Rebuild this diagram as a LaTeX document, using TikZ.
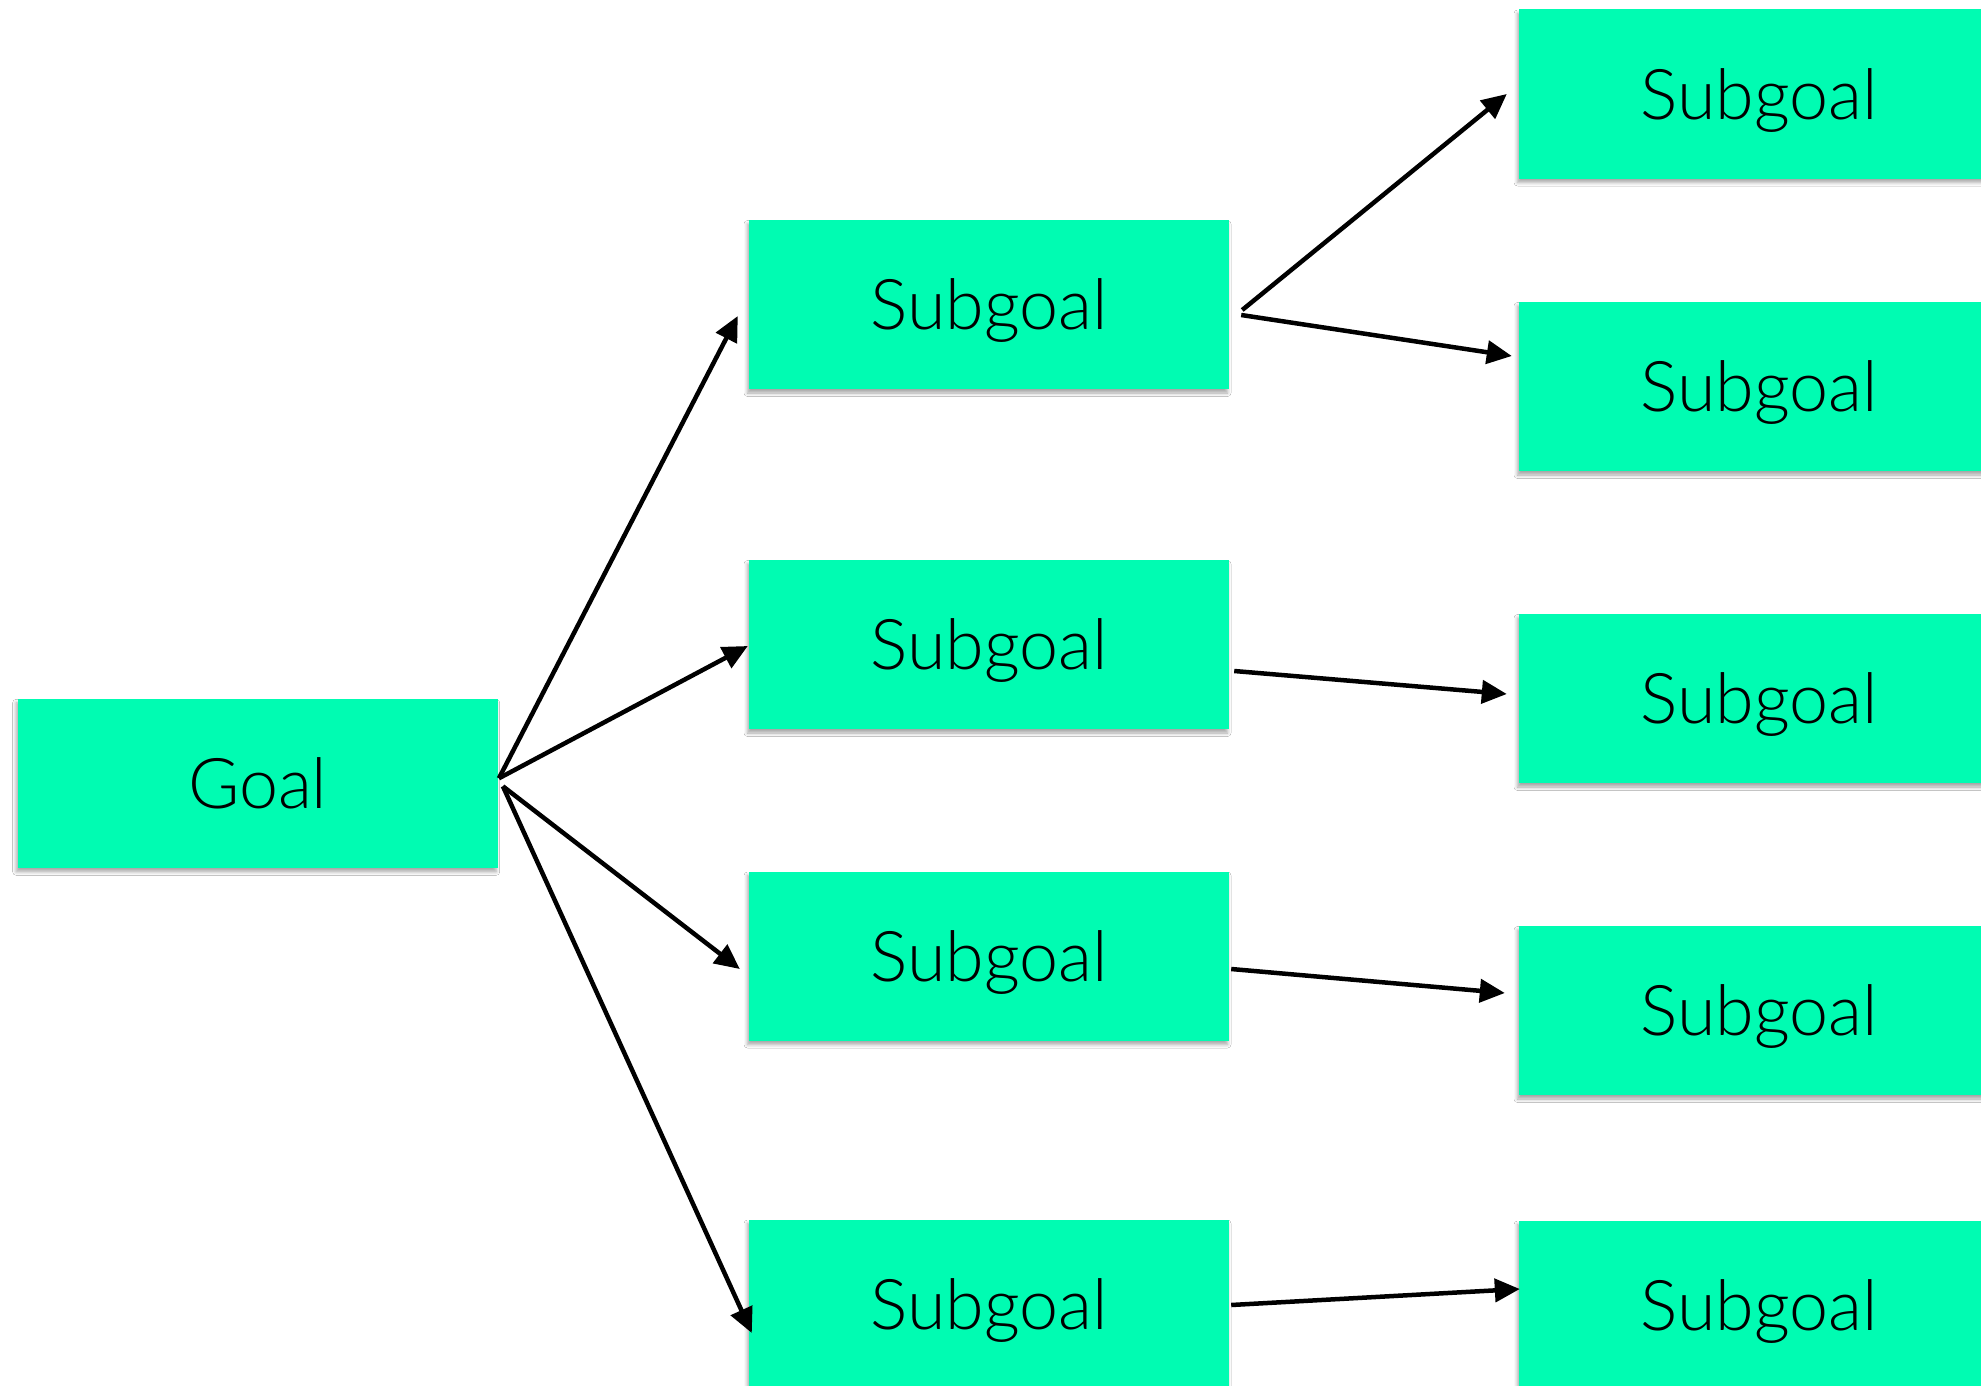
\documentclass[tikz,border=0pt]{standalone}
\usepackage{fontspec}
\setmainfont{Lato}[UprightFont=* Light]
\usetikzlibrary{arrows.meta,calc,shadows.blur}
\definecolor{goalgreen}{RGB}{0,252,178}
\tikzset{
  card/.style={fill=goalgreen, draw=none, minimum width=480pt, minimum height=169pt,
    inner sep=0pt, text depth=0pt, font=\fontsize{70}{82}\selectfont,
    blur shadow={shadow xshift=-1.5pt, shadow yshift=-4pt, shadow blur radius=3.5pt,
      shadow blur steps=6, shadow opacity=35, shadow blur extra rounding=0pt}},
  link/.style={line width=4.5pt, -{Triangle[length=25pt,width=23pt]}}
}
\begin{document}
\begin{tikzpicture}[x=1pt,y=-1pt]
  \fill[white] (0,0) rectangle (1981,1386);
  \clip (0,0) rectangle (1981,1386);

  % root
  \node[card] (goal) at (257.7,783.3) {Goal};

  % first level
  \node[card] (m1) at (989,304.5) {Subgoal};
  \node[card] (m2) at (989,644.5) {Subgoal};
  \node[card] (m3) at (989,956) {Subgoal};
  \node[card] (m4) at (989,1304) {Subgoal};

  % second level
  \node[card] (r1) at (1759,94) {Subgoal};
  \node[card] (r2) at (1759,386.5) {Subgoal};
  \node[card] (r3) at (1759,698.5) {Subgoal};
  \node[card] (r4) at (1759,1010.5) {Subgoal};
  \node[card] (r5) at (1759,1305) {Subgoal};

  % root to first level
  \draw[link] ($(goal.east)+(1,-5)$) -- ($(m1.west)+(-11,11.5)$);
  \draw[link] ($(goal.east)+(1,-5)$) -- ($(m2.west)+(-1,1.5)$);
  \draw[link] ($(goal.east)+(5,3)$) -- ($(m3.west)+(-9,13)$);
  \draw[link] ($(goal.east)+(5,3)$) -- ($(m4.west)+(3,29)$);

  % first level to second level
  \draw[link] ($(m1.east)+(13,5.5)$) -- ($(r1.west)+(-12,0)$);
  \draw[link] ($(m1.east)+(12,10.5)$) -- ($(r2.west)+(-7,-30.5)$);
  \draw[link] ($(m2.east)+(5,26.5)$) -- ($(r3.west)+(-12,-4.5)$);
  \draw[link] ($(m3.east)+(2,13)$) -- ($(r4.west)+(-14,-17.5)$);
  \draw[link] ($(m4.east)+(2,1)$) -- ($(r5.west)+(1,-16)$);
\end{tikzpicture}
\end{document}
